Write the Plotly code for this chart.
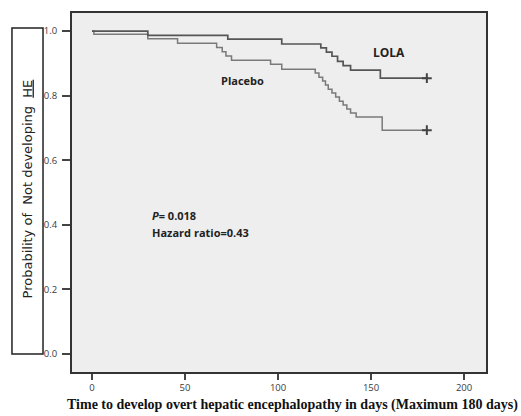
import plotly.graph_objects as go

# Kaplan-Meier step data (days, survival probability)
lola_days = [0, 30, 73, 102, 123, 126, 129, 132, 135, 139, 155, 180]
lola_surv = [1.0, 0.987, 0.975, 0.960, 0.948, 0.935, 0.922, 0.906, 0.893, 0.879, 0.854, 0.854]

placebo_days = [0, 1, 30, 46, 67, 70, 72, 75, 96, 102, 120, 122, 124, 125.5, 127, 129,
                 131, 133, 135, 137, 139, 142, 156, 180]
placebo_surv = [1.0, 0.990, 0.976, 0.962, 0.949, 0.936, 0.923, 0.910, 0.897, 0.882, 0.870,
                0.857, 0.845, 0.833, 0.820, 0.808, 0.796, 0.783, 0.771, 0.759, 0.746, 0.734,
                0.693, 0.693]

x_ticks = [0, 50, 100, 150, 200]
y_ticks = [0.0, 0.2, 0.4, 0.6, 0.8, 1.0]
y_tick_labels = ["0.0", "0.2", "0.4", "0.6", "0.8", "1.0"]

fig = go.Figure()

fig.add_trace(go.Scatter(x=placebo_days, y=placebo_surv, mode="lines", line_shape="hv",
                         line=dict(color="#7a7a7a", width=1.5), showlegend=False, name="Placebo"))
fig.add_trace(go.Scatter(x=lola_days, y=lola_surv, mode="lines", line_shape="hv",
                         line=dict(color="#555555", width=1.7), showlegend=False, name="LOLA"))
# censor marks at end of follow-up
fig.add_trace(go.Scatter(x=[lola_days[-1], placebo_days[-1]], y=[lola_surv[-1], placebo_surv[-1]],
                         mode="markers",
                         marker=dict(symbol="cross-thin", size=7, line=dict(color="#444444", width=2)),
                         showlegend=False))

fig.update_layout(
    width=521, height=416,
    margin=dict(l=72, r=35, t=13, b=44),
    paper_bgcolor="white",
    plot_bgcolor="#eeeeee",
    font=dict(family="Open Sans", color="#333333"),
    xaxis=dict(range=[-10.75, 211.8], tickvals=x_ticks, ticks="outside", ticklen=6,
               tickcolor="#444444", tickwidth=1.5, showgrid=False, zeroline=False,
               showline=True, linecolor="#333333", linewidth=2, mirror=True,
               tickfont=dict(family="Open Sans", size=9.5, color="#3a3a3a")),
    yaxis=dict(range=[-0.056, 1.056], tickvals=y_ticks, ticktext=y_tick_labels,
               ticks="outside", ticklen=8, tickcolor="#444444", tickwidth=1.5,
               showgrid=False, zeroline=False, ticklabelstandoff=3,
               showline=True, linecolor="#333333", linewidth=2, mirror=True,
               tickfont=dict(family="Open Sans", size=9.5, color="#3a3a3a")),
    shapes=[dict(type="rect", xref="paper", yref="paper", x0=-0.145, x1=-0.070,
                 y0=0.050, y1=0.958, line=dict(color="#222222", width=1.5))],
    annotations=[
        dict(text="Probability of  Not developing  <u>HE</u>", xref="paper", yref="paper",
             x=-0.1075, y=0.51, xanchor="center", yanchor="middle", textangle=-90,
             showarrow=False,
             font=dict(family="DejaVu Sans", size=13, color="#222222")),
        dict(text="<b>Time to develop overt hepatic encephalopathy in days (Maximum 180 days)</b>",
             xref="paper", yref="paper", x=0.532, y=-0.092, xanchor="center", yanchor="middle",
             showarrow=False,
             font=dict(family="Liberation Serif", size=14, color="#111111")),
        dict(text="<b>LOLA</b>", x=159.7, y=0.935, showarrow=False,
             font=dict(family="Open Sans", size=12, color="#222222")),
        dict(text="<b>Placebo</b>", x=81, y=0.848, showarrow=False,
             font=dict(family="Open Sans", size=11, color="#222222")),
        dict(text="<b><i>P</i>= 0.018</b>", x=31, y=0.430, showarrow=False, xanchor="left",
             font=dict(family="Open Sans", size=11, color="#222222")),
        dict(text="<b>Hazard ratio=0.43</b>", x=31, y=0.375, showarrow=False, xanchor="left",
             font=dict(family="Open Sans", size=11, color="#222222")),
    ],
)

fig.write_html("out.html", config={"displayModeBar": False},
               post_script="document.body.style.margin='0px';")
